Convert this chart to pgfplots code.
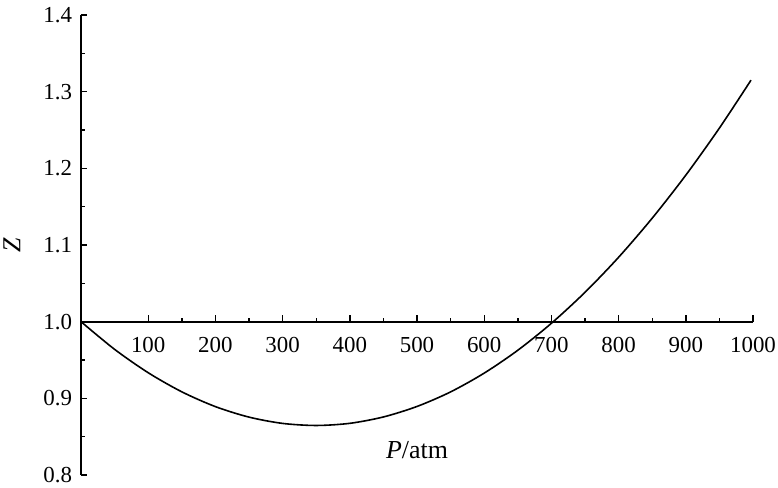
\documentclass[border=0pt]{standalone}
\usepackage{fontspec}
\setmainfont{Liberation Serif}
\usepackage{pgfplots}
\pgfplotsset{compat=1.18}
\begin{document}
\begin{tikzpicture}
\useasboundingbox (0,0) rectangle (389bp,244bp);
\begin{axis}[
  at={(40.5bp,6.5bp)}, anchor=south west,
  scale only axis, width=336bp, height=230bp,
  xmin=0, xmax=1000, ymin=0.8, ymax=1.4,
  axis x line=none, axis y line*=left,
  ytick={0.8,0.9,1.0,1.1,1.2,1.3,1.4},
  minor y tick num=1,
  tick align=inside,
  major tick length=3bp, minor tick length=1.8bp,
  /pgf/number format/assume math mode=true,
  yticklabel style={/pgf/number format/.cd, fixed, fixed zerofill, precision=1, /tikz/.cd, font=\fontsize{11.5}{11.5}\selectfont, xshift=-1bp},
  ylabel={\textit{Z}},
  ylabel style={at={(axis description cs:-0.103,0.5)}, anchor=center, font=\fontsize{13}{13}\selectfont},
  axis line style={line width=0.9bp},
  every tick/.style={black, line width=0.7bp},
  clip=false]
\addplot[smooth, black, line width=0.8bp] coordinates {
(0,1.0) (50,0.9639) (100,0.9334) (150,0.9085) (200,0.8892) (250,0.8755)
(300,0.8673) (350,0.8646) (400,0.8674) (450,0.8757) (500,0.8894) (550,0.9084)
(600,0.9329) (650,0.9627) (700,0.9979) (750,1.0383) (800,1.0840) (850,1.1350)
(900,1.1911) (950,1.2525) (997,1.3150)
};
\node[font=\fontsize{13}{13}\selectfont] at (axis cs:500,0.833) {\textit{P}/atm};
\end{axis}
\begin{axis}[
  at={(40.5bp,83bp)}, anchor=south west,
  scale only axis, width=336bp, height=20bp,
  xmin=0, xmax=1000, ymin=0, ymax=1,
  axis y line=none, axis x line*=bottom,
  xtick={100,200,300,400,500,600,700,800,900,1000},
  minor x tick num=1,
  tick align=inside,
  major tick length=3.5bp, minor tick length=2bp,
  /pgf/number format/assume math mode=true,
  /pgf/number format/1000 sep={},
  xticklabel style={font=\fontsize{11.5}{11.5}\selectfont, yshift=-4bp},
  axis line style={line width=0.8bp},
  every tick/.style={black, line width=0.7bp}]
\end{axis}
\end{tikzpicture}
\end{document}
